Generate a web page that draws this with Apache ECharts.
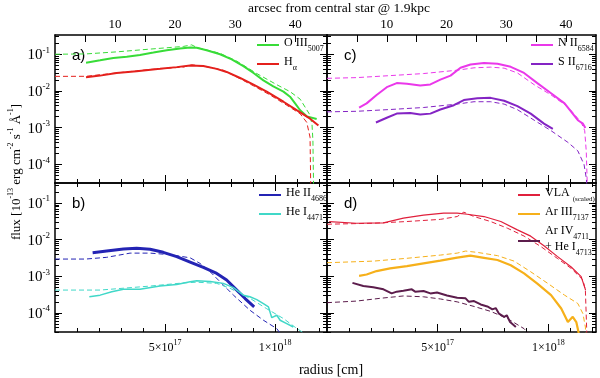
<!DOCTYPE html>
<html><head><meta charset="utf-8">
<script src="https://cdn.jsdelivr.net/npm/echarts@6/dist/echarts.min.js"></script>
<style>html,body{margin:0;padding:0;background:#fff}#c{width:600px;height:378px}</style>
</head><body><div id="c"></div>
<script>
// radius in units of 1e17 cm ; flux in 1e-13 erg cm^-2 s^-1 A^-1
// Panel a
const oiiiObs = [[1.41,0.0588],[2.05,0.0683],[2.65,0.079],[3.26,0.086],[3.86,0.096],[4.47,0.111],[5.08,0.129],[5.68,0.144],[6.14,0.153],[6.44,0.150],[6.89,0.129],[7.50,0.100],[8.03,0.0727],[8.56,0.0475],[9.02,0.031],[9.47,0.0195],[9.92,0.0133],[10.38,0.0096],[10.68,0.0070],[10.91,0.00458],[11.14,0.00299],[11.44,0.00204],[11.89,0.00172]];
const oiiiModel = [[0,0.100],[1.4,0.102],[2.8,0.116],[4.32,0.138],[5.83,0.163],[6.21,0.18],[6.45,0.152],[7.5,0.106],[8.26,0.065],[9.17,0.0298],[10.08,0.0148],[10.68,0.0096],[11.14,0.0060],[11.59,0.0022],[11.68,0.0012],[11.72,0.00045],[11.76,0.00001]];
const haObs = [[1.41,0.0235],[2.05,0.0262],[2.8,0.031],[3.71,0.0346],[4.77,0.040],[5.53,0.0446],[6.14,0.0496],[6.74,0.0476],[7.35,0.040],[7.8,0.033],[8.41,0.0226],[9.02,0.0148],[9.62,0.0096],[10.38,0.0051],[10.98,0.003],[11.59,0.00176],[11.97,0.00115]];
const haModel = [[0,0.025],[1.41,0.0251],[2.8,0.031],[4.32,0.0385],[5.83,0.0446],[6.21,0.0518],[6.89,0.0456],[7.65,0.0368],[8.26,0.024],[9.02,0.0138],[9.77,0.0078],[10.53,0.0041],[11.14,0.0024],[11.44,0.0014],[11.59,0.00055],[11.63,0.00001]];
// Panel b
const heiiObs = [[1.71,0.00443],[2.35,0.00492],[3.11,0.00558],[3.71,0.0058],[4.32,0.0055],[4.92,0.00452],[5.53,0.00344],[6.14,0.00245],[6.74,0.00175],[7.35,0.0012],[7.8,0.00079],[8.26,0.00042],[8.64,0.000246],[9.05,0.000146]];
const heiiModel = [[0,0.00296],[1.4,0.00296],[2.35,0.0033],[3.41,0.0043],[4.32,0.0043],[5.23,0.0039],[6.14,0.0032],[6.59,0.00225],[7.05,0.00133],[7.5,0.00071],[8.11,0.000305],[8.86,0.000118],[9.47,0.000063],[10.08,0.000037],[10.4,0.00002]];
const heiObs = [[1.56,0.000275],[2.05,0.000305],[2.58,0.00038],[3.11,0.00044],[3.86,0.00044],[4.77,0.00054],[5.53,0.0006],[6.14,0.00071],[6.44,0.00075],[7.05,0.00072],[7.65,0.00064],[8.11,0.00049],[8.56,0.000305],[8.86,0.000275],[9.17,0.00023],[9.47,0.00018],[9.7,0.000146],[9.85,0.000074],[10.08,0.000086],[10.23,0.000063],[10.53,0.000051],[10.83,0.000041]];
const heiModel = [[0,0.00042],[2.05,0.00042],[4.32,0.00054],[5.83,0.00066],[6.44,0.00069],[7.35,0.00064],[7.95,0.00047],[8.86,0.00025],[9.62,0.00013],[10.38,0.00007],[10.9,0.000041],[11.3,0.000028]];
// Panel c
const niiObs = [[1.45,0.00355],[1.79,0.0046],[2.24,0.0078],[2.7,0.0127],[3.15,0.0164],[3.61,0.0158],[4.21,0.0141],[4.67,0.0151],[5.12,0.0204],[5.58,0.0262],[6.03,0.0428],[6.48,0.0528],[7.09,0.0575],[7.7,0.055],[8.3,0.0455],[8.9,0.031],[9.5,0.0164],[10.12,0.0087],[10.73,0.0046],[11.33,0.0016],[11.56,0.00129],[11.67,0.00098]];
const niiModel = [[0,0.0221],[1.33,0.0231],[2.85,0.0262],[4.36,0.0298],[5.88,0.0368],[6.64,0.0427],[7.39,0.0446],[8.0,0.0418],[8.6,0.031],[9.36,0.0148],[10.12,0.0078],[10.88,0.0037],[11.48,0.0014],[11.64,0.00083],[11.71,0.00023],[11.78,0.00001]];
const siiObs = [[2.21,0.00139],[2.7,0.00187],[3.15,0.00242],[3.76,0.00253],[4.21,0.0023],[4.67,0.00242],[5.12,0.00313],[5.73,0.0041],[6.18,0.00567],[6.79,0.0063],[7.39,0.0065],[8.0,0.00543],[8.6,0.00386],[9.2,0.00242],[9.8,0.00129],[10.2,0.00093]];
const siiModel = [[0,0.0027],[1.33,0.0028],[2.85,0.00313],[4.36,0.00355],[5.88,0.0044],[6.64,0.0051],[7.39,0.0051],[8.0,0.0044],[8.6,0.0031],[9.36,0.0016],[10.12,0.00083],[10.88,0.0004],[11.33,0.000234],[11.61,0.0001],[11.71,0.000043],[11.8,0.00001]];
// Panel d
const vlaObs = [[0.1,0.0314],[1.33,0.0282],[2.55,0.029],[3.45,0.0388],[4.36,0.0468],[5.27,0.053],[5.88,0.053],[6.33,0.0497],[7.09,0.043],[7.85,0.0314],[8.6,0.0186],[9.2,0.0125],[9.8,0.0068],[10.4,0.0035],[11.03,0.0018],[11.48,0.00098],[11.68,0.00042]];
const vlaModel = [[0,0.0265],[2.1,0.0282],[3.6,0.0314],[5.12,0.036],[5.88,0.043],[6.18,0.0566],[6.64,0.043],[7.39,0.0314],[8.15,0.0206],[8.9,0.0126],[9.66,0.0065],[10.4,0.0031],[11.03,0.00164],[11.56,0.00079],[11.67,0.00042],[11.76,0.00001]];
const ariiiObs = [[1.45,0.00103],[1.79,0.00112],[2.24,0.00139],[2.85,0.00164],[3.61,0.0019],[4.36,0.00225],[5.12,0.00267],[5.88,0.00323],[6.48,0.00367],[7.09,0.0032],[7.7,0.00279],[8.3,0.002],[8.9,0.0012],[9.5,0.00063],[10.12,0.000305],[10.58,0.000132],[10.88,0.000056],[11.1,0.000078],[11.26,0.000056],[11.36,0.00003],[11.42,0.00001]];
const ariiiModel = [[0,0.00235],[2.1,0.0026],[3.6,0.0031],[5.12,0.0038],[5.88,0.0043],[6.26,0.0049],[6.79,0.0045],[7.7,0.00367],[8.45,0.0026],[9.2,0.00133],[9.97,0.00064],[10.73,0.000305],[11.33,0.00018],[11.56,0.000095],[11.67,0.000041],[11.73,0.00001]];
const arivObs = [[1.15,0.00066],[1.64,0.00054],[2.09,0.0005],[2.55,0.00044],[2.92,0.00034],[3.15,0.00038],[3.45,0.0004],[3.83,0.00044],[3.98,0.00038],[4.36,0.000395],[4.67,0.00034],[4.97,0.00036],[5.42,0.0003],[5.88,0.00026],[6.26,0.00025],[6.41,0.0002],[6.64,0.00021],[6.94,0.00017],[7.24,0.00015],[7.47,0.000125],[7.62,0.000135],[7.77,0.000095],[8.0,0.000078],[8.12,0.000086],[8.27,0.000056],[8.53,0.000041]];
const arivModel = [[0,0.00019],[1.33,0.00021],[2.4,0.00025],[3.45,0.00029],[4.36,0.000275],[5.12,0.00024],[5.88,0.0002],[6.64,0.00015],[7.39,0.00011],[8.15,0.00007],[8.9,0.000037],[9.3,0.00002]];

// tick values and labels
const yDecades = [1e-4, 1e-3, 1e-2, 1e-1];
const yDecadeExp = ['-4', '-3', '-2', '-1'];
const yMinorTicks = [];
[1e-5, 1e-4, 1e-3, 1e-2, 1e-1].forEach(d => { for (let m = 2; m <= 9; m++) yMinorTicks.push(+(m * d).toPrecision(3)); });
const radiusMajor = [5, 10];
const radiusLabelMain = ['5×10', '1×10'];
const radiusLabelExp = ['17', '18'];
const radiusMinor = [1, 2, 3, 4, 6, 7, 8, 9, 11, 12];
const arcsecTicks = [5, 10, 15, 20, 25, 30, 35, 40];
const arcsecLabels = [10, 20, 30, 40];

const SERIF = 'Liberation Serif';
const SANS = 'Liberation Sans';

const panels = [
  {tag: 'a)', left: 55, top: 35, width: 272, height: 148, rMax: 12.36, arcMax: 45.3, yMin: 3.13e-5, yMax: 0.334, yLabels: true, xLabels: false, arcsec: true,
   legend: {left: 256, top: 37}, series: [
    {name: 'oiii', data: oiiiObs, color: '#38dc38', width: 2},
    {name: 'oiiiM', data: oiiiModel, color: '#38dc38', width: 1, dash: true},
    {name: 'ha', data: haObs, color: '#e4201c', width: 2},
    {name: 'haM', data: haModel, color: '#e4201c', width: 1, dash: true}]},
  {tag: 'b)', left: 55, top: 183, width: 272, height: 149, rMax: 12.36, yMin: 3.0e-5, yMax: 0.355, yLabels: true, xLabels: true, arcsec: false,
   legend: {left: 258, top: 187}, series: [
    {name: 'heii', data: heiiObs, color: '#2424b4', width: 3},
    {name: 'heiiM', data: heiiModel, color: '#2424b4', width: 1, dash: true},
    {name: 'hei', data: heiObs, color: '#40d8c8', width: 1.5},
    {name: 'heiM', data: heiModel, color: '#40d8c8', width: 1, dash: true}]},
  {tag: 'c)', left: 327, top: 35, width: 269, height: 148, rMax: 12.15, arcMax: 45.0, yMin: 3.13e-5, yMax: 0.334, yLabels: false, xLabels: false, arcsec: true,
   legend: {left: 530, top: 37}, series: [
    {name: 'nii', data: niiObs, color: '#ea38ea', width: 2},
    {name: 'niiM', data: niiModel, color: '#ea38ea', width: 1, dash: true},
    {name: 'sii', data: siiObs, color: '#8424c4', width: 2},
    {name: 'siiM', data: siiModel, color: '#8424c4', width: 1, dash: true}]},
  {tag: 'd)', left: 327, top: 183, width: 269, height: 149, rMax: 12.15, yMin: 3.0e-5, yMax: 0.355, yLabels: false, xLabels: true, arcsec: false,
   legend: {left: 517, top: 187}, series: [
    {name: 'vla', data: vlaObs, color: '#e0203c', width: 1.2},
    {name: 'vlaM', data: vlaModel, color: '#e0203c', width: 1, dash: true},
    {name: 'ariii', data: ariiiObs, color: '#f6b01a', width: 2.2},
    {name: 'ariiiM', data: ariiiModel, color: '#f6b01a', width: 1, dash: true},
    {name: 'ariv', data: arivObs, color: '#5c1d4c', width: 2},
    {name: 'arivM', data: arivModel, color: '#5c1d4c', width: 1, dash: true}]}
];

const legendText = {
  oiii: '{m|O III}{s|5007}', ha: '{m|H}{s|α}', nii: '{m|N II}{s|6584}', sii: '{m|S II}{s|6716}',
  heii: '{m|He II}{s|4686}', hei: '{m|He I}{s|4471}', vla: '{m|VLA }{t|(scaled)}', ariii: '{m|Ar III}{s|7137}',
  ariv: '{m|Ar IV}{s|4711}\n{m|+ He I}{s|4713}'
};

const option = {animation: false, grid: [], xAxis: [], yAxis: [], series: [], legend: [], graphic: []};
const lineCol = '#000';

function xAx(gi, pos, max, ticks, len, showLine, labels, fmt, margin) {
  return {
    type: 'value', gridIndex: gi, position: pos, min: 0, max: max,
    axisLine: {show: showLine, onZero: false, lineStyle: {color: lineCol, width: 1.5}},
    axisTick: {show: !!ticks, inside: true, length: len, customValues: ticks || undefined, lineStyle: {color: lineCol, width: 1}},
    axisLabel: labels ? {show: true, customValues: labels, formatter: fmt, margin: margin, color: '#000', fontFamily: SERIF,
      rich: {m: {fontFamily: SERIF, fontSize: 12, color: '#000', verticalAlign: 'bottom', lineHeight: 15},
             s: {fontFamily: SERIF, fontSize: 8, color: '#000', verticalAlign: 'top', lineHeight: 8},
             a: {fontFamily: SERIF, fontSize: 13, color: '#000'}}} : {show: false},
    splitLine: {show: false}, minorTick: {show: false}
  };
}
function yAx(gi, pos, p, ticks, len, showLine, labels) {
  return {
    type: 'log', logBase: 10, gridIndex: gi, position: pos, min: p.yMin, max: p.yMax,
    axisLine: {show: showLine, onZero: false, lineStyle: {color: lineCol, width: 1.5}},
    axisTick: {show: true, inside: true, length: len, customValues: ticks, lineStyle: {color: lineCol, width: 1}},
    axisLabel: labels ? {show: true, customValues: labels, margin: 5,
      formatter: v => { const i = yDecades.findIndex(d => Math.abs(Math.log10(d) - Math.log10(v)) < 0.01); return '{m|10}{s|' + yDecadeExp[i] + '}'; },
      rich: {m: {fontFamily: SERIF, fontSize: 15, color: '#000', verticalAlign: 'bottom', lineHeight: 17},
             s: {fontFamily: SERIF, fontSize: 9, color: '#000', verticalAlign: 'top', lineHeight: 9}}} : {show: false},
    splitLine: {show: false}, minorTick: {show: false}
  };
}

const radiusFmt = v => { const i = radiusMajor.indexOf(Math.round(v)); return '{m|' + radiusLabelMain[i] + '}{s|' + radiusLabelExp[i] + '}'; };
const arcFmt = v => '{a|' + v + '}';

panels.forEach((p, pi) => {
  const rect = {left: p.left, top: p.top, width: p.width, height: p.height};
  const gMain = option.grid.length; option.grid.push(Object.assign({}, rect));
  const gMin = option.grid.length; option.grid.push(Object.assign({}, rect));
  const xMain = option.xAxis.length;
  option.xAxis.push(xAx(gMain, 'bottom', p.rMax, radiusMajor, 8, true, p.xLabels ? radiusMajor : null, radiusFmt, 7));
  if (p.arcsec) option.xAxis.push(xAx(gMain, 'top', p.arcMax, arcsecTicks, 7, true, arcsecLabels, arcFmt, 4));
  else option.xAxis.push(xAx(gMain, 'top', p.rMax, radiusMajor, 8, true, null));
  option.xAxis.push(xAx(gMin, 'bottom', p.rMax, radiusMinor, 4, false, null));
  option.xAxis.push(xAx(gMin, 'top', p.rMax, p.arcsec ? null : radiusMinor, 4, false, null));
  const yMain = option.yAxis.length;
  option.yAxis.push(yAx(gMain, 'left', p, yDecades, 7, true, p.yLabels ? yDecades : null));
  option.yAxis.push(yAx(gMain, 'right', p, yDecades, 7, true, null));
  option.yAxis.push(yAx(gMin, 'left', p, yMinorTicks, 4, false, null));
  option.yAxis.push(yAx(gMin, 'right', p, yMinorTicks, 4, false, null));
  p.series.forEach(s => {
    option.series.push({
      type: 'line', name: s.name, xAxisIndex: xMain, yAxisIndex: yMain, data: s.data,
      symbol: 'none', showSymbol: false, smooth: false, clip: true, z: s.dash ? 2 : 3,
      color: s.color,
      lineStyle: {color: s.color, width: s.width, type: s.dash ? [5, 3] : 'solid'}
    });
  });
  option.legend.push({
    orient: 'vertical', left: p.legend.left, top: p.legend.top, padding: 0, itemGap: 3,
    itemWidth: 22, itemHeight: 14, selectedMode: false,
    itemStyle: {opacity: 0, borderWidth: 0},
    data: p.series.filter(s => !s.dash).map(s => s.name),
    formatter: n => legendText[n],
    textStyle: {color: '#000', fontFamily: SERIF, fontSize: 12,
      rich: {m: {fontFamily: SERIF, fontSize: 12, color: '#000', verticalAlign: 'top', lineHeight: 16},
             s: {fontFamily: SERIF, fontSize: 8, color: '#000', verticalAlign: 'bottom', lineHeight: 9},
             t: {fontFamily: SERIF, fontSize: 7, color: '#000', verticalAlign: 'bottom', lineHeight: 8}}}
  });
  option.graphic.push({type: 'text', left: p.left + 17, top: p.top + 13,
    style: {text: p.tag, font: '15px ' + SANS, fill: '#000'}});
});

option.graphic.push({type: 'text', x: 339, y: 8,
  style: {text: 'arcsec from central star @ 1.9kpc', font: '13.5px ' + SERIF, fill: '#000', align: 'center', verticalAlign: 'middle', textAlign: 'center', textVerticalAlign: 'middle'}});
option.graphic.push({type: 'text', x: 331, y: 370,
  style: {text: 'radius [cm]', font: '14px ' + SERIF, fill: '#000', align: 'center', verticalAlign: 'middle', textAlign: 'center', textVerticalAlign: 'middle'}});
option.graphic.push({type: 'text', x: 15, y: 172, rotation: Math.PI / 2,
  style: {text: '{m|flux [10}{p|-13}{m| erg cm}{p|-2}{m| s}{p|-1}{m| Å}{p|-1}{m|]}',
    rich: {m: {fontFamily: SERIF, fontSize: 13, fill: '#000', verticalAlign: 'bottom', lineHeight: 16},
           p: {fontFamily: SERIF, fontSize: 8, fill: '#000', verticalAlign: 'top', lineHeight: 8}},
    align: 'center', verticalAlign: 'middle', textAlign: 'center', textVerticalAlign: 'middle'}});

const chart = echarts.init(document.getElementById('c'), null, {renderer: 'canvas'});
chart.setOption(option);
</script></body></html>
